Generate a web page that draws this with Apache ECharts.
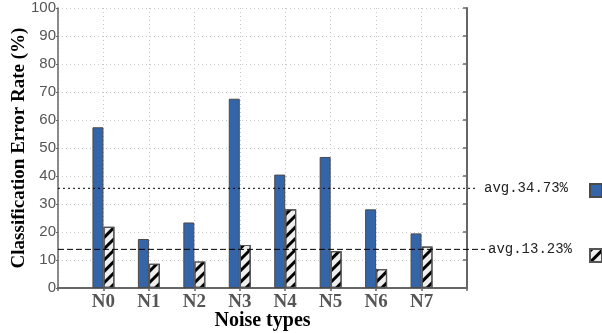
<!DOCTYPE html>
<html>
<head>
<meta charset="utf-8">
<script src="https://cdn.jsdelivr.net/npm/echarts@6/dist/echarts.min.js"></script>
<style>html,body{margin:0;padding:0;background:#fff}#c{width:602px;height:333px}</style>
</head>
<body>
<div id="c"></div>
<script>
const categories = ['', 'N0', 'N1', 'N2', 'N3', 'N4', 'N5', 'N6', 'N7', ''];
const blueValues = [null, 57.4, 17.5, 23.4, 67.6, 40.5, 46.8, 28.1, 19.5, null];
const hatchValues = [null, 21.9, 8.7, 9.5, 15.4, 28.1, 13.2, 6.8, 14.8, null];
const avgBlueLevel = 35.6;
const avgHatchLevel = 13.8;
const avgBlueLabel = 'avg.34.73%';
const avgHatchLabel = 'avg.13.23%';
const yTicks = [0, 100, 10];

const serif = 'Liberation Serif';
const chart = echarts.init(document.getElementById('c'), null, {renderer: 'canvas'});
const axisColor = '#666';
const gridBase = {top: 8, bottom: 45, left: 58, containLabel: false, outerBoundsMode: 'none'};

chart.setOption({
  animation: false,
  grid: [
    Object.assign({}, gridBase, {right: 135}),
    Object.assign({}, gridBase, {right: 125}),
    Object.assign({}, gridBase, {right: 117})
  ],
  legend: {
    orient: 'vertical', left: 584, top: 178, itemGap: 50,
    itemWidth: 12, itemHeight: 13, icon: 'rect',
    formatter: () => '', data: ['blue', 'hatch'],
    selectedMode: false
  },
  xAxis: [
    {
      type: 'category', data: categories, boundaryGap: false, gridIndex: 0,
      axisLine: {lineStyle: {color: axisColor, width: 2}},
      axisTick: {show: false},
      axisLabel: {fontFamily: serif, fontWeight: 'bold', fontSize: 19, color: '#555', margin: 5},
      splitLine: {show: true, lineStyle: {color: '#c8c8c8', type: [1, 3]}},
      name: 'Noise types', nameLocation: 'middle', nameGap: 23, nameMoveOverlap: false,
      nameTextStyle: {fontFamily: serif, fontWeight: 'bold', fontSize: 20, color: '#000'}
    },
    {
      type: 'category', data: categories, boundaryGap: false, gridIndex: 0, position: 'top',
      axisLine: {lineStyle: {color: axisColor, width: 2}},
      axisTick: {show: true, inside: true, length: 3, lineStyle: {color: axisColor, width: 1.5}},
      axisLabel: {show: false}, splitLine: {show: false}
    },
    {type: 'value', gridIndex: 1, min: 0, max: 1, show: false},
    {type: 'value', gridIndex: 2, min: 0, max: 1, show: false}
  ],
  yAxis: [
    {
      type: 'value', min: yTicks[0], max: yTicks[1], interval: yTicks[2], gridIndex: 0,
      axisLine: {show: true, lineStyle: {color: axisColor, width: 1.5}},
      axisTick: {show: true, length: 2, lineStyle: {color: axisColor}},
      axisLabel: {fontFamily: 'Liberation Sans', fontSize: 15, color: '#555', margin: 2},
      splitLine: {show: true, lineStyle: {color: '#c8c8c8', type: [1, 3]}},
      name: 'Classification Error Rate (%)', nameLocation: 'middle', nameGap: 29, nameMoveOverlap: false,
      nameTextStyle: {fontFamily: serif, fontWeight: 'bold', fontSize: 19, color: '#000'}
    },
    {
      type: 'value', min: yTicks[0], max: yTicks[1], interval: yTicks[2], gridIndex: 0, position: 'right',
      axisLine: {show: true, lineStyle: {color: axisColor, width: 2}},
      axisTick: {show: true, inside: true, length: 4, lineStyle: {color: axisColor, width: 1.5}},
      axisLabel: {show: false}, splitLine: {show: false}
    },
    {type: 'value', gridIndex: 1, min: 0, max: 100, show: false},
    {type: 'value', gridIndex: 2, min: 0, max: 100, show: false}
  ],
  series: [
    {
      name: 'blue', type: 'bar', xAxisIndex: 0, yAxisIndex: 0, data: blueValues,
      barWidth: 11, barGap: '0%',
      itemStyle: {color: '#3565a9', borderColor: '#4a4a4a', borderWidth: 1}
    },
    {
      name: 'hatch', type: 'bar', xAxisIndex: 0, yAxisIndex: 0, data: hatchValues,
      barWidth: 11, barGap: '0%',
      itemStyle: {
        color: '#eeeeee', borderColor: '#555', borderWidth: 1.2,
        decal: {symbol: 'rect', symbolSize: 1, dashArrayX: [1, 0], dashArrayY: [3, 5], rotation: -Math.PI / 4, color: '#000'}
      }
    },
    {
      type: 'line', xAxisIndex: 2, yAxisIndex: 2, z: 5, symbol: 'none', silent: true,
      data: [[0, avgBlueLevel], [1, avgBlueLevel]],
      lineStyle: {color: '#000', width: 1, type: [2, 3]},
      endLabel: {show: true, formatter: avgBlueLabel, fontFamily: 'Liberation Mono', fontSize: 14, color: '#222', distance: 7}
    },
    {
      type: 'line', xAxisIndex: 3, yAxisIndex: 3, z: 5, symbol: 'none', silent: true,
      data: [[0, avgHatchLevel], [1, avgHatchLevel]],
      lineStyle: {color: '#000', width: 1, type: [6, 3]},
      endLabel: {show: true, formatter: avgHatchLabel, fontFamily: 'Liberation Mono', fontSize: 14, color: '#222', distance: 3}
    }
  ]
});
</script>
</body>
</html>
